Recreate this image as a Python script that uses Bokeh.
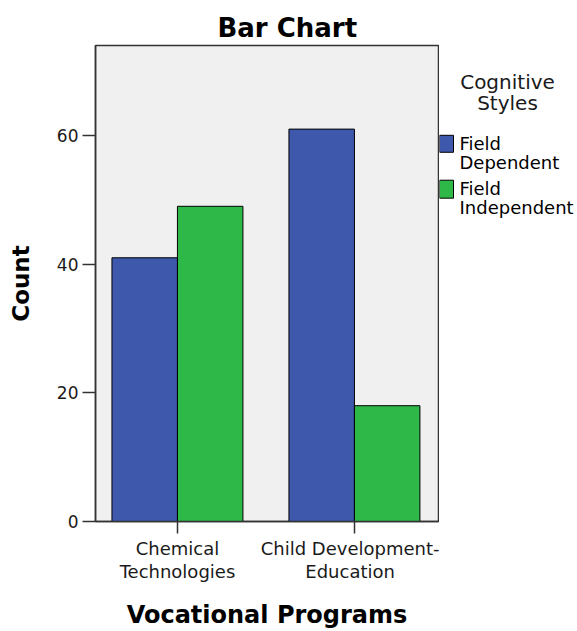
from bokeh.plotting import figure
from bokeh.layouts import row
from bokeh.models import Range1d, FixedTicker, ColumnDataSource
from bokeh.core.properties import value
from bokeh.transform import dodge
from bokeh.embed import file_html
from bokeh.resources import INLINE

# ---- data ----
programs = ["Chemical\nTechnologies", "Child Development-\nEducation"]
style_first_lines = ["Field", "Field"]
style_second_lines = ["Dependent", "Independent"]
field_dependent = [41, 61]
field_independent = [49, 18]
y_ticks = [0, 20, 40, 60]
chart_title = "Bar Chart"
legend_title_lines = ["Cognitive", "Styles"]
x_label = "Vocational Programs"
y_label = "Count"

BLUE = "#3E58AC"
GREEN = "#2EB848"
FONT = "DejaVu Sans"

xs = list(range(1, len(programs) + 1))
src = ColumnDataSource(dict(x=xs, fd=field_dependent, fi=field_independent))

TOP, BOTTOM = 45, 109
p = figure(width=439, height=631, output_backend="svg", toolbar_location=None,
           x_range=Range1d(0.537, 2.475), y_range=Range1d(0, 74),
           min_border_left=95, min_border_right=1, min_border_top=TOP,
           min_border_bottom=BOTTOM, title=chart_title)

p.title.align = "left"
p.title.offset = 122
p.title.text_font = FONT
p.title.text_font_style = "bold"
p.title.text_font_size = "26px"
p.title.text_color = "black"
p.title.standoff = 6

p.background_fill_color = "#F0F0F0"
p.border_fill_color = "white"
p.outline_line_color = "#333333"
p.outline_line_width = 1.5
p.grid.visible = False

bw = 0.37
p.vbar(x=dodge("x", -bw / 2, range=p.x_range), top="fd", width=bw, source=src,
       fill_color=BLUE, line_color="black", line_width=1)
p.vbar(x=dodge("x", bw / 2, range=p.x_range), top="fi", width=bw, source=src,
       fill_color=GREEN, line_color="black", line_width=1)

# axes
xa = p.xaxis[0]
xa.ticker = FixedTicker(ticks=xs)
xa.major_label_overrides = {x: lab for x, lab in zip(xs, programs)}
xa.minor_tick_line_color = None
xa.major_tick_in = 0
xa.major_tick_out = 12
xa.major_tick_line_color = "#333333"
xa.major_tick_line_width = 1.5
xa.axis_line_color = "#333333"
xa.axis_line_width = 1.5
xa.major_label_text_font = FONT
xa.major_label_text_font_size = "18px"
xa.major_label_text_color = "#1a1a1a"
xa.major_label_text_line_height = 1.1
xa.major_label_standoff = 4
xa.axis_label = x_label
xa.axis_label_text_font = FONT
xa.axis_label_text_font_style = "bold"
xa.axis_label_text_font_size = "24px"
xa.axis_label_text_color = "black"
xa.axis_label_standoff = 16

ya = p.yaxis[0]
ya.ticker = FixedTicker(ticks=y_ticks)
ya.minor_tick_line_color = None
ya.major_tick_in = 0
ya.major_tick_out = 13
ya.major_tick_line_color = "#333333"
ya.major_tick_line_width = 1.5
ya.axis_line_color = "#333333"
ya.axis_line_width = 1.5
ya.major_label_text_font = FONT
ya.major_label_text_font_size = "17px"
ya.major_label_text_color = "#1a1a1a"
ya.major_label_standoff = 4
ya.axis_label = y_label
ya.axis_label_text_font = FONT
ya.axis_label_text_font_style = "bold"
ya.axis_label_text_font_size = "23px"
ya.axis_label_text_color = "black"
ya.axis_label_standoff = 20

# ---- legend panel (separate figure; frame aligned with main frame,
#      coordinates are page pixels, y downward) ----
LW, LH = 138, 631
lg = figure(width=LW, height=LH, output_backend="svg", toolbar_location=None,
            x_range=Range1d(0, LW), y_range=Range1d(LH - BOTTOM, TOP),
            min_border_left=0, min_border_right=0,
            min_border_top=TOP, min_border_bottom=BOTTOM,
            outline_line_color=None)
lg.axis.visible = False
lg.grid.visible = False
lg.background_fill_color = "white"
lg.border_fill_color = "white"

lg.text(x=[68, 68], y=[82, 103], text=legend_title_lines,
        text_font=value(FONT), text_font_size="20px", text_align="center",
        text_baseline="alphabetic", text_color="#1a1a1a")

swatch_src = ColumnDataSource(dict(
    left=[0, 0], right=[14, 14], top=[135, 180], bottom=[152, 198],
    color=[BLUE, GREEN]))
lg.quad(left="left", right="right", top="top", bottom="bottom", source=swatch_src,
        fill_color="color", line_color="black", line_width=1)

lg.text(x=[20, 20, 20, 20], y=[143, 162, 188, 207],
        text=[style_first_lines[0], style_second_lines[0],
              style_first_lines[1], style_second_lines[1]],
        text_font=value(FONT), text_font_size="18px", text_align="left",
        text_baseline="alphabetic", text_color="black")

layout = row(p, lg, spacing=0)
open("out.html", "w").write(file_html(layout, INLINE))
